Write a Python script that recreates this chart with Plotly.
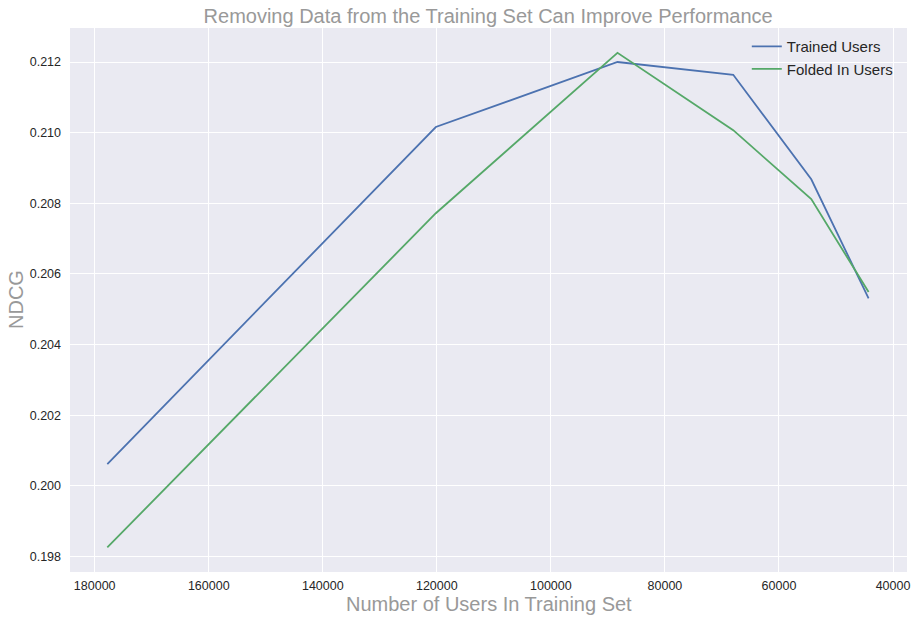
import plotly.graph_objects as go

users = [177789, 120175, 88316, 68018, 54333, 44281]
trained_ndcg = [0.20062, 0.21016, 0.21200, 0.21164, 0.20868, 0.20531]
folded_ndcg = [0.19826, 0.20772, 0.21226, 0.21007, 0.20812, 0.20549]
x_ticks = [180000, 160000, 140000, 120000, 100000, 80000, 60000, 40000]
y_ticks = [0.198, 0.200, 0.202, 0.204, 0.206, 0.208, 0.210, 0.212]

FONT = "Liberation Sans, Arial, sans-serif"
GRAY = "#999999"

fig = go.Figure()
fig.add_trace(go.Scatter(x=users, y=trained_ndcg, mode="lines", name="Trained Users",
                         line=dict(color="#4C72B0", width=1.8)))
fig.add_trace(go.Scatter(x=users, y=folded_ndcg, mode="lines", name="Folded In Users",
                         line=dict(color="#55A868", width=1.8)))

fig.update_layout(
    width=915, height=621,
    margin=dict(l=70, r=8, t=28, b=49),
    paper_bgcolor="white",
    plot_bgcolor="#EAEAF2",
    font=dict(family=FONT, color="#262626", size=13),
    title=dict(text="Removing Data from the Training Set Can Improve Performance",
               font=dict(family=FONT, size=20, color=GRAY),
               x=0.5335, xanchor="center", y=0.974, yanchor="middle"),
    legend=dict(x=0.989, y=0.996, xanchor="right", yanchor="top",
                bgcolor="rgba(0,0,0,0)", borderwidth=0,
                font=dict(family=FONT, size=15, color="#262626"),
                tracegroupgap=0),
    showlegend=True,
    annotations=[
        dict(text="Number of Users In Training Set", xref="paper", yref="paper",
             x=0.5, y=0, xanchor="center", yanchor="middle", yshift=-32,
             showarrow=False, font=dict(family=FONT, size=20, color=GRAY)),
        dict(text="NDCG", xref="paper", yref="paper",
             x=0, y=0.5, xanchor="center", yanchor="middle", xshift=-54,
             textangle=-90, showarrow=False,
             font=dict(family=FONT, size=20, color=GRAY)),
    ],
)
fig.update_xaxes(
    range=[184333, 37544], automargin=False,
    tickvals=x_ticks, ticktext=[str(v) for v in x_ticks],
    showgrid=True, gridcolor="white", gridwidth=1.2,
    zeroline=False, showline=False, ticks="", ticklabelstandoff=4,
    tickfont=dict(family=FONT, size=12.5, color="#262626"),
)
fig.update_yaxes(
    range=[0.197564, 0.212963], automargin=False,
    tickvals=y_ticks, ticktext=["%.3f" % v for v in y_ticks],
    showgrid=True, gridcolor="white", gridwidth=1.2,
    zeroline=False, showline=False, ticks="", ticklabelstandoff=8,
    tickfont=dict(family=FONT, size=12.5, color="#262626"),
)

fig.write_html("out.html", config={"displayModeBar": False},
               post_script="document.body.style.margin='0';document.body.style.overflow='hidden';")
